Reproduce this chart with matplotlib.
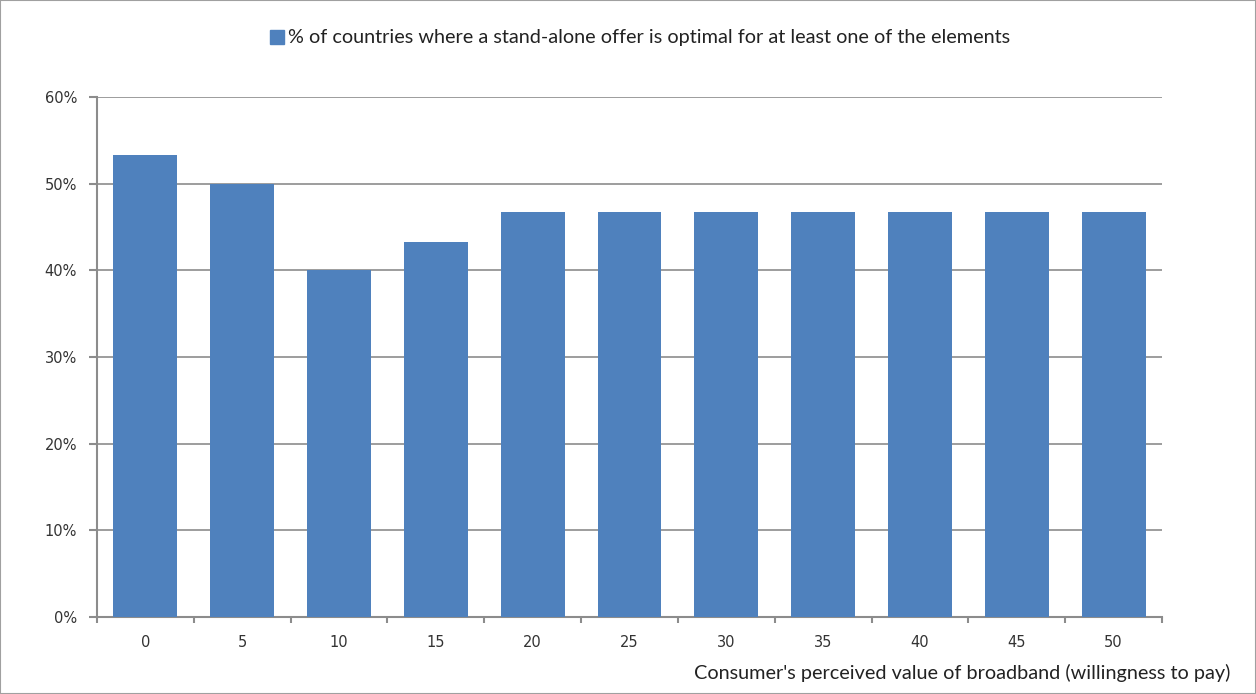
import matplotlib
matplotlib.use("Agg")
import matplotlib.pyplot as plt
from matplotlib.patches import Rectangle

categories = ["0", "5", "10", "15", "20", "25", "30", "35", "40", "45", "50"]
values = [53.3, 50.0, 40.0, 43.3, 46.7, 46.7, 46.7, 46.7, 46.7, 46.7, 46.7]
y_ticks = [0, 10, 20, 30, 40, 50, 60]
series_name = "% of countries where a stand-alone offer is optimal for at least one of the elements"
x_label = "Consumer's perceived value of broadband (willingness to pay)"

bar_color = "#4F81BD"
grid_color = "#8C8C8C"

fig = plt.figure(figsize=(12.56, 6.94), dpi=100)
ax = fig.add_axes([97/1256, 1-617/694, (1162-97)/1256, (617-97)/694])

x = list(range(len(categories)))
ax.bar(x, values, width=0.66, color=bar_color, zorder=3)

ax.set_xlim(-0.5, len(categories) - 0.5)
ax.set_ylim(0, 60)
ax.set_yticks(y_ticks)
ax.set_yticklabels([f"{t}%" for t in y_ticks], fontsize=10.5, color="#333333", family="DejaVu Sans")
ax.set_xticks(x)
ax.set_xticklabels(categories, fontsize=10.5, color="#333333", family="DejaVu Sans")
ax.tick_params(axis="x", length=0, pad=13)
ax.set_xticks([i + 0.5 for i in range(-1, len(categories))], minor=True)
ax.tick_params(axis="x", which="minor", length=4.5, color=grid_color, width=1.5, direction="out")
ax.tick_params(axis="y", length=5.8, color=grid_color, width=1.5, direction="out", pad=8.5)

ax.yaxis.grid(True, color=grid_color, linewidth=1.2, zorder=0)
for s in ["top", "right"]:
    ax.spines[s].set_visible(False)
for s in ["left", "bottom"]:
    ax.spines[s].set_color(grid_color)
    ax.spines[s].set_linewidth(1.5)

fig.text(1230/1256, 1-673/694, x_label, fontsize=14.3, family="Lato", color="#222222",
         ha="right", va="center")

leg = ax.legend([Rectangle((0, 0), 1, 1, color=bar_color)], [series_name],
                loc="center", bbox_to_anchor=(640/1256, 1-38/694), bbox_transform=fig.transFigure,
                frameon=False, prop={"family": "Lato", "size": 14.3},
                handlelength=0.7, handleheight=0.7, handletextpad=0.2)
for t in leg.get_texts():
    t.set_color("#222222")

fig.patches.append(Rectangle((0, 0), 1, 1, transform=fig.transFigure, fill=False,
                             edgecolor="#A0A0A0", linewidth=1.5))

fig.savefig("out.png", dpi=100)
